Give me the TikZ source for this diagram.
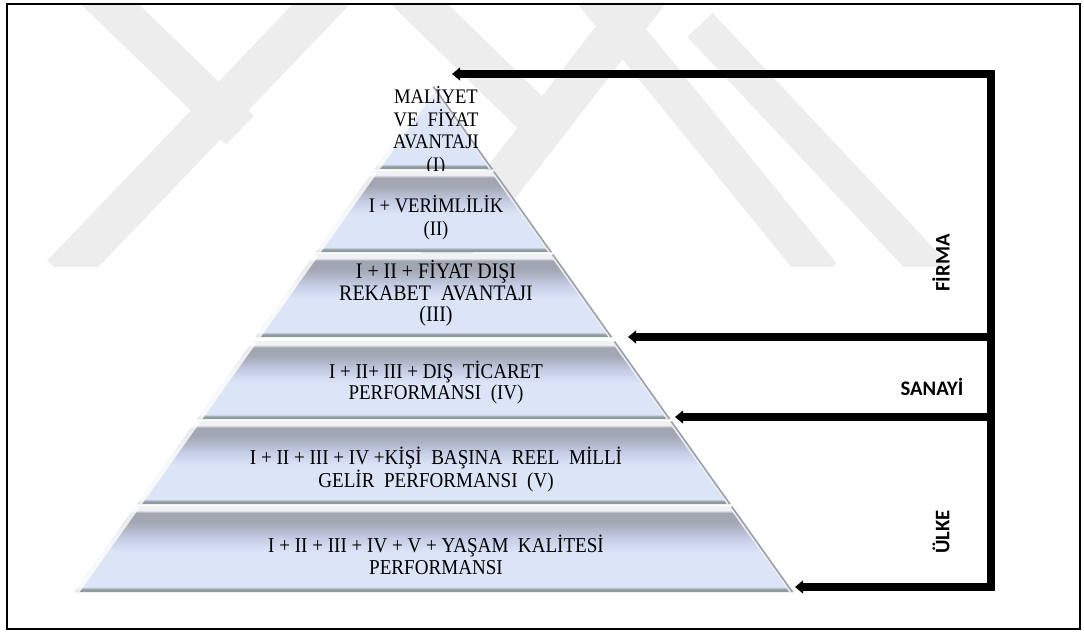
\documentclass[tikz,border=0pt]{standalone}
\usepackage{fontspec}
\setmainfont{Liberation Serif}
\newfontfamily\tierfont[FakeStretch=0.9]{Liberation Serif}
\newfontfamily\labfont{Carlito}
\usetikzlibrary{arrows.meta,calc}
\definecolor{wm}{HTML}{EDEDED}
\definecolor{lb}{HTML}{DCE5F8}
\definecolor{gr}{HTML}{A2A6B3}
\definecolor{hl}{HTML}{F0F1F4}
\definecolor{bl}{HTML}{8E9A9C}
\definecolor{lav}{HTML}{C6CEE6}
\definecolor{edgegray}{HTML}{9AA0A8}
\pgfdeclareverticalshading{tiershade}{100bp}{color(0bp)=(bl); color(25bp)=(bl); color(26.5bp)=(bl); color(28bp)=(lb); color(48bp)=(lb); color(56bp)=(lav); color(66bp)=(gr); color(71bp)=(gr); color(72.5bp)=(hl); color(75bp)=(hl); color(100bp)=(hl)}
\pgfdeclareverticalshading{topshade}{100bp}{color(0bp)=(bl); color(25bp)=(bl); color(26.5bp)=(bl); color(28bp)=(lb); color(55bp)=(lb); color(75bp)=(lb!45!white); color(100bp)=(lb!45!white)}
\newcommand\drawtier[3]{% top y, bottom y, shading
  \pgfmathsetmacro\wt{0.71*(#1-86)}
  \pgfmathsetmacro\wb{0.71*(#2-86)}
  \shade[shading=#3] (434-\wt,#1) -- (434+\wt,#1) -- (434+\wb,#2) -- (434-\wb,#2) -- cycle;
  \begin{scope}
    \clip (434-\wt,#1) -- (434+\wt,#1) -- (434+\wb,#2) -- (434-\wb,#2) -- cycle;
    \draw[white, line width=6pt, opacity=.8] (434-\wb,#2) -- (434-\wt,#1);
    \draw[edgegray, line width=4.5pt] (434+\wt,#1) -- (434+\wb,#2);
    \draw[white, line width=1.2pt, opacity=.8] (434+\wt-3,#1) -- (434+\wb-3,#2);
  \end{scope}
}
\tikzset{
  tiertext/.style={align=center, inner sep=0pt, text=black},
  lab/.style={inner sep=0pt, font=\labfont\bfseries\fontsize{15.5pt}{18pt}\selectfont},
  wmband/.style={wm, line width=#1, line cap=butt},
  bracket/.style={line width=6.2pt, line join=miter},
  tipped/.style={-{Triangle[length=6pt,width=9.5pt]}}
}
\begin{document}
\begin{tikzpicture}[x=0.75pt,y=-0.75pt]
\useasboundingbox (0,0) rectangle (1084,632);
\fill[white] (0,0) rectangle (1084,632);
% watermark
\begin{scope}
  \clip (8,5) rectangle (1079,266);
  \draw[wmband=30pt] (95,-10) -- (240,130);
  \draw[wmband=31pt] (335,-10) -- (62,275);
  \draw[wmband=30pt] (405,-10) -- (548,130);
  \draw[wmband=31pt] (650,-10) -- (430,275);
  \draw[wmband=28pt] (592,-8) -- (822,275);
  \draw[wmband=26pt] (700,25) -- (935,275);
\end{scope}
% frame
\draw[line width=1.6pt] (7,4) rectangle (1080,629);
% pyramid tiers (top to bottom so lower tiers overlap overflowing text)
\drawtier{86}{169}{topshade}
\node[tiertext, font=\tierfont\fontsize{15.5pt}{16.9pt}\selectfont] (t1) at (436,131) {MALİYET\\VE\ \ FİYAT\\AVANTAJI\\(I)};
\drawtier{171}{252}{tiershade}
\node[tiertext, font=\tierfont\fontsize{15.5pt}{17.2pt}\selectfont] (t2) at (436,217.5) {I + VERİMLİLİK\\(II)};
\drawtier{254}{337}{tiershade}
\node[tiertext, font=\tierfont\fontsize{16.6pt}{16.1pt}\selectfont] (t3) at (436,293.5) {I + II + FİYAT DIŞI\\REKABET\ \ AVANTAJI\\(III)};
\drawtier{341}{419}{tiershade}
\node[tiertext, font=\tierfont\fontsize{15.8pt}{15.75pt}\selectfont] (t4) at (436,382.5) {I + II+ III + DIŞ\ \ TİCARET\\PERFORMANSI\ \ (IV)};
\drawtier{421}{504}{tiershade}
\node[tiertext, font=\tierfont\fontsize{15.9pt}{17.2pt}\selectfont] (t5) at (436,469.5) {I + II + III + IV +KİŞİ\ \ BAŞINA\ \ REEL\ \ MİLLİ\\GELİR\ \ PERFORMANSI\ \ (V)};
\drawtier{506}{592}{tiershade}
\node[tiertext, font=\tierfont\fontsize{15.9pt}{16.5pt}\selectfont] (t6) at (436,555) {I + II + III + IV + V + YAŞAM\ \ KALİTESİ\\PERFORMANSI};
% bracket and arrows
\coordinate (barTop) at (991,74);
\coordinate (barB) at (991,337);
\coordinate (barC) at (991,417);
\coordinate (barBot) at (991,587);
\coordinate (tipA) at (452,74);
\coordinate (tipB) at (628,337);
\coordinate (tipC) at (675,417);
\coordinate (tipD) at (795,587);
\draw[bracket, {Triangle[length=6pt,width=9.5pt]}-{Triangle[length=6pt,width=9.5pt]}] (tipA) -- (barTop) -- (barBot) -- (tipD);
\draw[bracket, tipped] (barB) -- (tipB);
\draw[bracket, tipped] (barC) -- (tipC);
% labels
\node[lab, rotate=90] (firma) at (941,263) {FİRMA};
\node[lab] (sanayi) at (932,387) {SANAYİ};
\node[lab, rotate=90] (ulke) at (941,532) {ÜLKE};
\end{tikzpicture}
\end{document}
